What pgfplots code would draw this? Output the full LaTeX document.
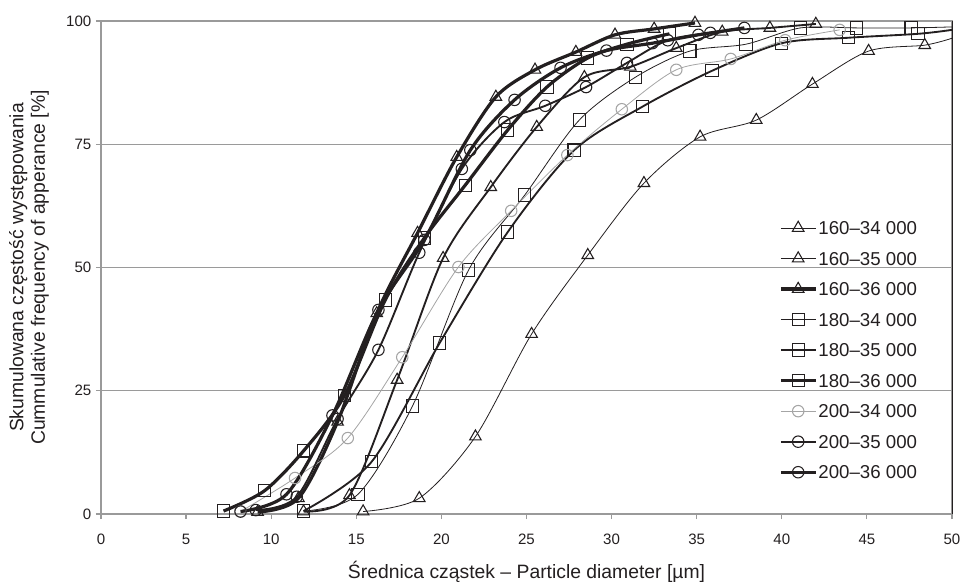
\documentclass[border=0pt]{standalone}
\usepackage{fontspec}
\setmainfont{Liberation Sans}
\usepackage{pgfplots}
\pgfplotsset{compat=1.18}
\definecolor{ink}{HTML}{231F20}
\definecolor{gr}{HTML}{9A9A9A}
\definecolor{lg}{HTML}{A5A5A5}
\begin{document}
\begin{tikzpicture}
\useasboundingbox (-75.75pt,-54pt) rectangle (648pt,385.5pt);
\begin{axis}[
  at={(0pt,0pt)}, anchor=south west,
  scale only axis, width=638.25pt, height=369.75pt,
  xmin=0, xmax=50, ymin=0, ymax=100,
  xtick={0,5,...,50}, ytick={0,25,50,75,100},
  tick align=outside, tick pos=left,
  major tick length=3.75pt,
  tick style={gr, line width=0.9pt},
  axis line style={gr, line width=0.9pt},
  ymajorgrids, grid style={gr, line width=0.9pt},
  clip=false,
  /pgf/number format/assume math mode=true,
  ticklabel style={font=\fontsize{11.3}{13}\selectfont, text=ink},
  xticklabel style={yshift=-8pt},
  xlabel={Średnica cząstek – Particle diameter [µm]},
  ylabel={Skumulowana częstość występowania\\Cummulative frequency of apperance [\%]},
  xlabel style={at={(axis description cs:0.5,-0.1176)}, anchor=center, font=\fontsize{14.5}{17}\selectfont, text=ink},
  ylabel style={at={(axis description cs:-0.0846,0.5)}, anchor=center, align=center, font=\fontsize{14.5}{16}\selectfont, text=ink},
  legend style={draw=none, fill=none, at={(axis description cs:0.792,0.6024)}, anchor=north west,
    font=\fontsize{14}{16}\selectfont, text=ink, row sep=10.9pt,
    nodes={text height=10pt, text depth=0pt, inner sep=1pt}},
  legend cell align=left,
  legend image code/.code={\draw[#1, mark indices={2}] plot coordinates {(0pt,0pt)(13pt,0pt)(26pt,0pt)};},
  thinl/.style={ink, line width=0.6pt, smooth},
  medl/.style={ink, line width=1.4pt, smooth},
  thkl/.style={ink, line width=2.4pt, smooth},
  tri/.style={mark=triangle, mark size=5pt, mark options={solid, ink, line width=0.8pt}},
  sq/.style={mark=square, mark size=4.6pt, mark options={solid, ink, line width=0.8pt}},
  ci/.style={mark=o, mark size=4.3pt, mark options={solid, ink, line width=0.8pt}},
]
% 160-34 000
\addplot[thinl, tri, mark indices={1,...,11}] coordinates {
(15.4,0.5)(18.7,3.2)(22.0,15.7)(25.3,36.5)(28.6,52.5)(31.9,67.1)(35.2,76.5)(38.5,79.9)(41.8,87.2)(45.1,93.9)(48.4,95.1)(50,96.5)};
\addlegendentry{160–34 000}
% 160-35 000
\addplot[medl, tri] coordinates {
(11.9,0.5)(14.6,3.8)(17.4,27.2)(20.1,51.9)(22.9,66.3)(25.6,78.5)(28.4,88.6)(31.1,90.7)(33.8,94.5)(36.5,97.8)(39.3,98.6)(42.0,99.4)};
\addlegendentry{160–35 000}
% 160-36 000
\addplot[thkl, tri] coordinates {
(9.2,0.4)(11.6,3.2)(13.9,18.7)(16.2,40.7)(18.6,57.0)(20.9,72.4)(23.2,84.6)(25.5,90.1)(27.9,93.7)(30.2,97.2)(32.5,98.4)(34.9,99.6)};
\addlegendentry{160–36 000}
% 180-34 000
\addplot[thinl, sq, mark indices={1,...,12}] coordinates {
(11.9,0.6)(15.1,4.0)(18.3,21.9)(21.6,49.5)(24.9,64.7)(28.1,79.9)(31.4,88.6)(34.6,93.9)(37.9,95.3)(41.1,98.6)(44.4,98.6)(47.6,98.6)(50,98.8)};
\addlegendentry{180–34 000}
% 180-35 000
\addplot[medl, sq, mark indices={1,...,10}] coordinates {
(11.9,0.6)(15.9,10.6)(19.9,34.7)(23.9,57.2)(27.8,73.8)(31.8,82.6)(35.9,89.9)(40.0,95.5)(43.9,96.6)(48.0,97.4)(50,98.2)};
\addlegendentry{180–35 000}
% 180-36 000
\addplot[thkl, sq] coordinates {
(7.2,0.6)(9.6,4.7)(11.9,12.8)(14.3,24.0)(16.7,43.4)(19.0,56.0)(21.4,66.7)(23.9,77.9)(26.2,86.6)(28.6,92.5)(30.9,95.3)(33.4,97.4)};
\addlegendentry{180–36 000}
% 200-34 000
\addplot[lg, line width=0.6pt, smooth, mark=o, mark size=4.3pt, mark options={solid, lg, line width=0.8pt}] coordinates {
(8.2,0.5)(11.4,7.3)(14.5,15.4)(17.7,31.8)(21.0,50.1)(24.1,61.5)(27.4,72.8)(30.6,82.1)(33.8,90.1)(37.0,92.3)(40.2,96.1)(43.4,98.2)};
\addlegendentry{200–34 000}
% 200-35 000
\addplot[medl, ci] coordinates {
(9.1,0.8)(11.5,3.5)(13.9,19.3)(16.3,33.3)(18.7,53.0)(21.2,70.0)(23.7,79.5)(26.1,82.8)(28.5,86.6)(30.9,91.5)(33.3,96.1)(35.8,97.6)};
\addlegendentry{200–35 000}
% 200-36 000
\addplot[thkl, ci] coordinates {
(8.2,0.5)(10.9,4.0)(13.6,20.0)(16.3,41.4)(19.0,55.6)(21.7,73.8)(24.3,84.0)(27.0,90.5)(29.7,94.0)(32.4,95.5)(35.1,97.2)(37.8,98.6)};
\addlegendentry{200–36 000}
\draw[ink, line width=0.7pt] (axis cs:50,0) -- (axis cs:50,100);
\end{axis}
\end{tikzpicture}
\end{document}
